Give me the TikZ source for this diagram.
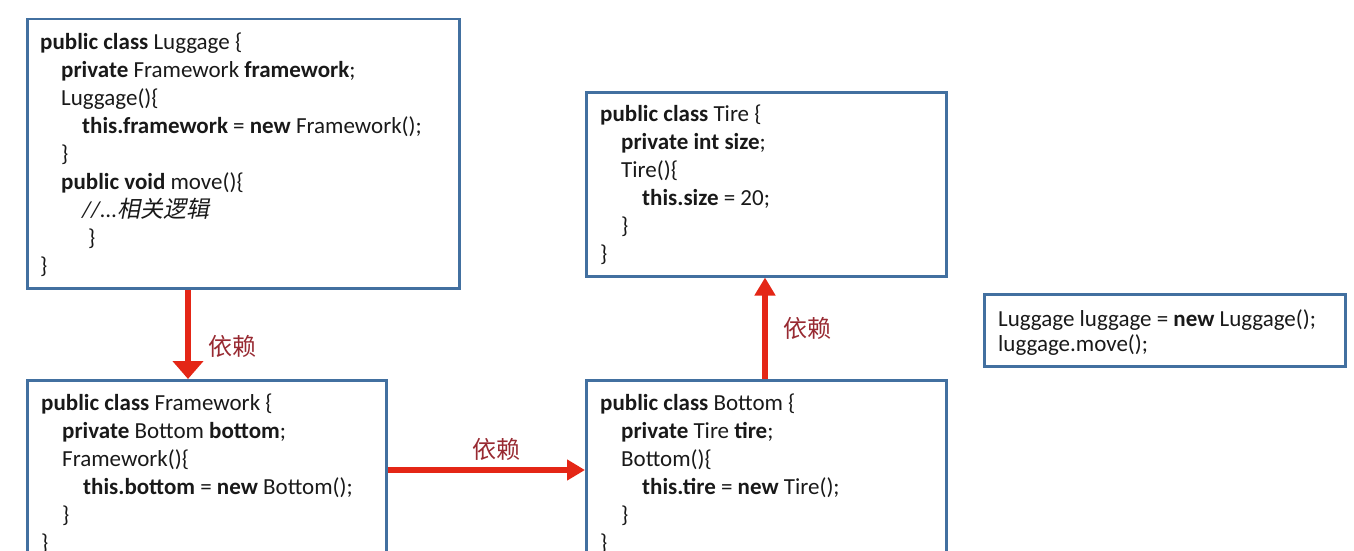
\documentclass[tikz,border=0pt]{standalone}
\usepackage{fontspec}
\setmainfont{Carlito}
\newfontfamily\cjk{Noto Sans CJK SC}
\newfontfamily\cjkslant[FakeSlant=0.2]{Noto Sans CJK SC}
\usetikzlibrary{arrows.meta}
\definecolor{boxblue}{RGB}{66,112,160}
\definecolor{arrowred}{RGB}{228,38,22}
\definecolor{labelred}{RGB}{152,42,50}
\definecolor{codeink}{RGB}{25,25,25}
\newcommand{\ind}{\hspace*{21pt}}
\newcommand{\kw}[1]{\textbf{#1}}

\begin{document}
\begin{tikzpicture}[x=1pt,y=-1pt,
  classbox/.style={draw=boxblue,line width=2.5pt,anchor=north west,inner sep=0pt},
  code/.style={anchor=base west,align=left,inner sep=0pt,text=codeink,font=\fontsize{23}{28}\selectfont},
  dep/.style={draw=arrowred,line width=5.5pt,-{Triangle[length=18pt,width=#1]}},
  dep/.default=20pt,
  deplabel/.style={text=labelred,font=\cjk\fontsize{24}{24}\selectfont}]
  \useasboundingbox (0,0) rectangle (1354,551);
  \clip (0,0) rectangle (1354,551);
  % class boxes
  \node[classbox,minimum width=432,minimum height=269] (lug) at (26,18) {};
  \node[classbox,minimum width=359,minimum height=200] (fw) at (26,379) {};
  \node[classbox,minimum width=360,minimum height=200] (bot) at (585,379) {};
  \node[classbox,minimum width=360,minimum height=184] (tire) at (585,91) {};
  \node[classbox,minimum width=361,minimum height=72] (main) at (983,293) {};
  % code (anchored at the baseline of the last line)
  \node[code] (lugcode) at ([shift={(14,255)}]lug.north west) {\kw{public class} Luggage \{\\
    \ind\kw{private} Framework \kw{framework};\\
    \ind Luggage()\{\\
    \ind\ind\kw{this.framework} = \kw{new} Framework();\\
    \ind\}\\
    \ind\kw{public void} move()\{\\
    \ind\ind{\itshape//...}{\cjkslant 相关逻辑}\\
    \hspace*{48pt}\}\\
    \}};
  \node[code] (fwcode) at ([shift={(15,171)}]fw.north west) {\kw{public class} Framework \{\\
    \ind\kw{private} Bottom \kw{bottom};\\
    \ind Framework()\{\\
    \ind\ind\kw{this.bottom} = \kw{new} Bottom();\\
    \ind\}\\
    \}};
  \node[code] (botcode) at ([shift={(15,171)}]bot.north west) {\kw{public class} Bottom \{\\
    \ind\kw{private} Tire \kw{tire};\\
    \ind Bottom()\{\\
    \ind\ind\kw{this.tire} = \kw{new} Tire();\\
    \ind\}\\
    \}};
  \node[code] (tirecode) at ([shift={(15,170)}]tire.north west) {\kw{public class} Tire \{\\
    \ind\kw{private int size};\\
    \ind Tire()\{\\
    \ind\ind\kw{this.size} = 20;\\
    \ind\}\\
    \}};
  \node[code,font=\fontsize{23}{25}\selectfont] (maincode) at ([shift={(15,58)}]main.north west)
    {Luggage luggage = \kw{new} Luggage();\\ luggage.move();};
  % dependencies
  \draw[dep=30pt] ([shift={(162,0)}]lug.south west) -- node[deplabel,pos=.64,right,xshift=14pt] {依赖} ([shift={(162,0)}]fw.north west);
  \draw[dep] ([shift={(0,91)}]fw.north east) -- node[deplabel,pos=.55,above,yshift=3pt] {依赖} ([shift={(0,91)}]bot.north west);
  \draw[dep] ([shift={(180,0)}]bot.north west) -- node[deplabel,pos=.5,right,xshift=12pt] {依赖} ([shift={(180,0)}]tire.south west);
\end{tikzpicture}
\end{document}
